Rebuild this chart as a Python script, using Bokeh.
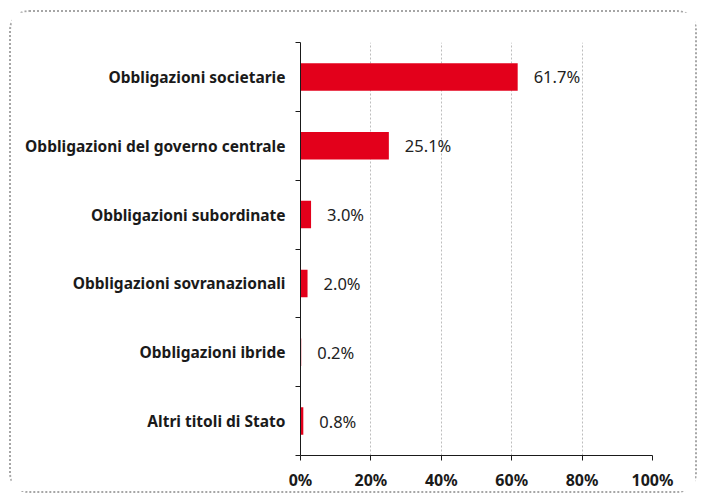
from bokeh.plotting import figure
from bokeh.models import FixedTicker, PrintfTickFormatter, ColumnDataSource
from bokeh.core.properties import value
from bokeh.embed import file_html
from bokeh.resources import INLINE

categories = ["Obbligazioni societarie", "Obbligazioni del governo centrale",
              "Obbligazioni subordinate", "Obbligazioni sovranazionali",
              "Obbligazioni ibride", "Altri titoli di Stato"]
values = [61.7, 25.1, 3.0, 2.0, 0.2, 0.8]
labels = ["61.7%", "25.1%", "3.0%", "2.0%", "0.2%", "0.8%"]
x_ticks = [0, 20, 40, 60, 80, 100]

n = len(categories)
ypos = [n - 0.5 - i for i in range(n)]

FONT = "Noto Sans"
RED = "#E3001B"

p = figure(width=688, height=483, output_backend="svg", toolbar_location=None,
           x_range=(0, 100), y_range=(0, n),
           min_border_left=289, min_border_right=47, min_border_top=30, min_border_bottom=40)
p.styles = {"border": "2px dotted #a6a6a6", "border-radius": "20px",
            "margin-left": "9px", "margin-top": "10px"}
p.outline_line_color = None
p.background_fill_color = "white"

src = ColumnDataSource(dict(y=ypos, v=values, lab=labels, cat=categories))
p.hbar(y="y", right="v", left=0, height=0.4, source=src, fill_color=RED, line_color=None)
p.text(x="v", y="y", text="lab", source=src, x_offset=16, text_baseline="middle",
       text_align="left", text_font=value(FONT), text_font_size="16.5px", text_color="#222222")

# x axis
p.xaxis.ticker = FixedTicker(ticks=x_ticks)
p.xaxis.formatter = PrintfTickFormatter(format="%d%%")
p.xaxis.major_label_text_font = FONT
p.xaxis.major_label_text_font_style = "bold"
p.xaxis.major_label_text_font_size = "16px"
p.xaxis.major_label_text_color = "#1a1a1a"
p.xaxis.major_tick_out = 5
p.xaxis.major_tick_in = 0
p.xaxis.minor_tick_line_color = None
p.xaxis.major_label_standoff = 8
p.xaxis.axis_line_color = "#1a1a1a"
p.xaxis.major_tick_line_color = "#1a1a1a"

# y axis
p.yaxis.ticker = FixedTicker(ticks=ypos, minor_ticks=list(range(n + 1)))
p.yaxis.major_label_overrides = {y: c for y, c in zip(ypos, categories)}
p.yaxis.major_tick_line_color = None
p.yaxis.major_tick_out = 0
p.yaxis.major_tick_in = 0
p.yaxis.minor_tick_out = 5
p.yaxis.minor_tick_in = 0
p.yaxis.minor_tick_line_color = "#1a1a1a"
p.yaxis.axis_line_color = "#1a1a1a"
p.yaxis.major_label_standoff = 10
p.yaxis.major_label_text_font = FONT
p.yaxis.major_label_text_font_style = "bold"
p.yaxis.major_label_text_font_size = "15.5px"
p.yaxis.major_label_text_color = "#1a1a1a"

p.xgrid.ticker = FixedTicker(ticks=x_ticks[1:])
p.xgrid.grid_line_color = "#bdbdbd"
p.xgrid.grid_line_dash = "2 2"
p.ygrid.grid_line_color = None

open("out.html", "w").write(file_html(p, INLINE))
